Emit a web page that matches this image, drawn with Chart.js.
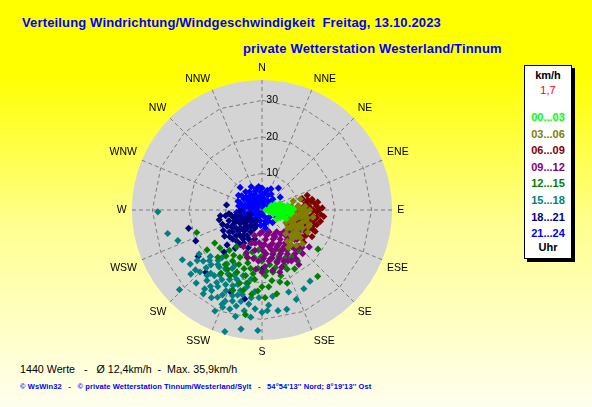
<!DOCTYPE html>
<html>
<head>
<meta charset="utf-8">
<script src="https://cdn.jsdelivr.net/npm/chart.js@4.4.0/dist/chart.umd.min.js"></script>
<style>
html, body { margin: 0; padding: 0; }
body {
    width: 592px; height: 407px; overflow: hidden; position: relative;
    background: linear-gradient(to bottom, #ffff00 0%, #ffff00 18%, #ffff90 55%, #fffff0 100%);
    font-family: "Liberation Sans", Arial, sans-serif;
}
#wrap { position: absolute; left: 0; top: 0; width: 592px; height: 407px; }
.t { position: absolute; white-space: pre; }
.title { color: #0000ff; font-weight: bold; font-size: 13px; letter-spacing: 0.15px; }
#legendBox {
    position: absolute; left: 524px; top: 65px; width: 46px; height: 192px;
    background: #fff; border: 1px solid #000; box-shadow: 3px 3px 0 #000;
    font-weight: bold; font-size: 11px; text-align: center;
}
#legendBox div { position: absolute; left: 0; width: 46px; }
</style>
</head>
<body>
<div class="t title" style="left:22px; top:15px;">Verteilung Windrichtung/Windgeschwindigkeit  Freitag, 13.10.2023</div>
<div class="t title" style="left:243px; top:41px;">private Wetterstation Westerland/Tinnum</div>

<div id="legendBox"></div>

<div class="t" style="left:20px; top:363px; font-size:10.7px; color:#000;">1440 Werte   -   Ø 12,4km/h  -  Max. 35,9km/h</div>
<div class="t" style="left:20px; top:382px; font-size:7.5px; letter-spacing:0.1px; font-weight:bold; color:#0000ff;">© WsWin32   -   © private Wetterstation Tinnum/Westerland/Sylt   -   54°54'13'' Nord; 8°19'13'' Ost</div>

<div id="wrap"><canvas id="rose"></canvas></div>

<script>
// Himmelsrichtungen
const compass = ['N', 'NNE', 'NE', 'ENE', 'E', 'ESE', 'SE', 'SSE', 'S', 'SSW', 'SW', 'WSW', 'W', 'WNW', 'NW', 'NNW'];
const rMax = 35.6;
const rTicks = [10, 20, 30];

// [Richtung in Grad, Geschwindigkeit km/h]
const bin00_03 = [[90,1],[76,2.1],[72,3.2],[76,4.1],[79,5.1],[80,6.1],[86,7],[90,8],[90,3],[90,4],[90,5],[90,6],[94,7],
    [104,2.1],[108,3.2],[104,4.1],[101,5.1],[99,6.1],[112,5.4],[122,4.7],[108,6.3],[65,3.8],[97,8.1],[80,7.1],[64,2.8],
    [108,4.7],[93,6.5],[84,5.6],[98,7.6],[70,5.2],[86,2.5],[100,3],[95,4.5],[85,7.8],[88,8.6],[110,7],[75,3]];
const bin03_06 = [[83,8.1],[90,9],[84,10],[90,11],[103,9.2],[101,10.2],[100,11.2],[111,8.5],[114,9.8],[112,10.8],[122,9.4],
    [124,10.8],[131,10.6],[113,7.6],[126,8.6],[95,12],[104,12.4],[114,12.1],[123,11.9],[74,8.9],[74,10.9],[90,13],[99,6.6],
    [141,11],[140,12.4],[116,13.9],[98,14.1],[96,9.1],[108,11.5],[107,13.6],[130,14.4],[118,7.4],[135,9.2],
    [88,10],[95,10.6],[105,9.5],[110,11.2],[118,11],[128,12],[134,11.5],[120,9],[100,12.6],[92,12.2],[85,11.8],
    [105,8],[116,10.3],[126,13],[136,13.5],[145,12.5],[110,13.5],[96,7.6]];
const bin06_09 = [[75,11.4],[81,12.2],[86,13],[90,14],[86,15],[94,16],[98,15.1],[102,14.3],[99,13.2],[95,12],[100,11.2],
    [107,10.4],[108,12.6],[111,13.9],[111,15],[114,12.1],[125,12.2],[120,13.9],[108,9.5],[101,16.3],[105,15.5],[80,13.7],
    [84,10],[118,10.7],[83,14.6],[102,12.3],[101,8.1],[88,16.5],[124,13.3],[120,8.1],[74,11.4],[82,15.4],[112,15.7],
    [78,12.8],[85,11.5],[90,12.5],[92,15],[96,13.8],[104,13],[106,14.8],[110,11],[115,13.5],[118,15.5],[96,17],
    [90,15.6],[78,14],[72,13],[103,11.8],[115,9.5],[92,9.6],[128,14.5]];
const bin09_12 = [[180,6],[162,6.3],[146,7.2],[135,8.5],[127,10],[121,11.7],[196,7.3],[173,8.1],[159,8.5],[148,9.4],[139,10.6],
    [132,12],[126,13.6],[180,10],[169,10.2],[158,10.8],[149,11.7],[141,12.8],[135,14.1],[190,11.2],[175,12],[166,12.4],
    [157,13],[150,13.9],[143,15],[184,14],[172,14.1],[164,15],[157,15.2],[150,16.1],[137,16.3],[198,9.5],[117,13.4],
    [128,16.4],[197,13.6],[170,16.8],[180,17],[146,18],[164,17.7],[207,11.2],[154,8.1],[168,6.9],[144,12.2],
    [170,7],[155,7.6],[142,8.4],[131,9.3],[176,9.4],[163,9.6],[152,10.3],[144,11],[185,9],[178,11.2],[161,11.4],
    [153,12.3],[146,12.6],[140,14],[133,15],[168,13.4],[160,14],[177,15.5],[153,15.6],[190,13.5],[186,16.3],
    [161,16.6],[145,16.3],[130,12.5],[124,10.6],[137,9.7],[185,6.5],[192,9.3],[200,12.5],[178,13.2],[167,11]];
const bin12_15 = [[198,9.5],[207,11.2],[215,12.2],[219,14.2],[185,11],[175,12],[166,12.4],[156,12.1],[148,13],[189,13.2],
    [197,13.6],[205,14.3],[210,16.1],[180,14],[172,15.1],[164,14.6],[158,16.2],[148,15.3],[184,16],[191,16.3],[197,16.8],
    [202,18.4],[177,18],[170,17.3],[164,18.7],[186,19.1],[191,20.4],[180,21],[175,21.1],[197,20.9],[214,18],[223,17.7],
    [151,18.4],[138,14.9],[161,21.2],[187,23.2],[234,18.6],[235,15.8],[170,23.3],[200,23.4],[251,18.9],[140,23.7],
    [125,18.7],[189,29],[193,11.8],[181,12.8],[170,13.5],[160,13.5],[153,14.5],[195,15],[203,16.2],[188,17.6],
    [176,16.8],[167,16.2],[157,17.6],[210,18.8],[206,20],[194,18.5],[183,22.2],[172,19.5],[178,24],[218,16],
    [228,15.5],[145,17],[200,13],[212,14.6],[166,20.3],[193,22.5],[213,20.6]];
const bin15_18 = [[229,21.3],[223,20.5],[219,19.2],[212,18.9],[207,17.9],[220,23.4],[216,22.2],[210,22],[205,21],[200,20.2],
    [196,18.7],[214,25.2],[210,24.2],[204,24.2],[200,23.4],[195,22.8],[191,21.4],[207,26.8],[202,26.9],[198,26.2],
    [193,25.7],[187,24.2],[184,27.1],[198,28.5],[190,28],[225,24],[222,26.9],[215,28],[182,24],[180,28],[176,26.1],
    [202,18.4],[220,17],[189,19.2],[269,28.5],[256,26.6],[250,24.5],[238,25.7],[226,31.4],[228,26.2],[202,28.7],
    [197,34.8],[190,33.1],[182,33],[177,27.6],[171,27.9],[166,28],[159,26.2],[152,24.4],[146,23.5],[162,23.6],
    [173,23.8],[233,24.6],[217,19.5],[213,21.2],[208,19.8],[203,19.3],[198,21.4],[219,22.3],[212,23.4],[206,22.7],
    [201,22.2],[196,24.2],[224,22],[218,24.5],[212,26],[205,25.6],[199,24.8],[193,23.8],[210,27.7],[203,28],
    [195,27.2],[188,26],[216,26.7],[226,20],[221,18.3],[213,17.6],[206,16.7],[232,22.5],[228,24.5],[186,29.5],
    [194,30],[205,30.5],[192,20.5],[185,22.4],[228,19],[235,21]];
const bin18_21 = [[225,4.2],[233,5],[239,5.8],[243,6.7],[247,7.6],[243,8.9],[219,6.4],[225,7.1],[230,7.8],[234,8.6],[233,10],
    [216,8.6],[221,9.2],[225,9.9],[210,8.1],[207,6.7],[209,10.3],[212,11.2],[225,11.3],[236,10.8],[252,9.5],[258,7.2],
    [264,9.1],[261,10.1],[249,4.3],[198,9.5],[194,8.2],[202,5.4],[207,3.4],[256,20.7],[245,20],[234,21.6],[262,11.5],
    [278,9.8],[201,24],[191,24.8],[180,16.2],[222,23],[222,15.5],[240,9.5],[228,6],[215,5.5],[238,7],[250,6],
    [255,8],[245,10.5],[230,11.5],[218,11],[213,9.5],[220,7.5],[228,8.5],[235,12.5],[242,12],[250,11.5],[257,12],
    [260,8.5],[248,8],[204,8.8],[200,11],[215,12.8],[225,13.5],[232,4],[205,4.8],[250,3.5],[268,6],[240,4.5]];
const bin21_24 = [[281,5.1],[307,5],[323,5],[336,4.8],[344,3.6],[0,4],[21,4.3],[45,4.2],[261,6.1],[248,5.4],[256,4.1],
    [270,3],[315,2.8],[315,1.4],[0,2],[45,1.4],[45,2.8],[304,3.6],[291,4.3],[301,5.8],[243,2.2],[236,3.6],[207,2.2],
    [180,1],[162,3.2],[135,2.8],[288,6.3],[326,3.6],[243,1.1],[45,0.7],[37,7.5],[316,8.6],[23,6.3],[318,6.7],[55,6.1],
    [302,7.6],[169,5.1],[117,4.5],[247,7.6],[276,2],[352,6.5],[10,2.6],[265,1.5],[290,2.5],[300,1.8],[330,2.2],
    [350,3],[10,4.8],[30,3],[20,1.5],[275,4.8],[285,5.8],[295,4.5],[310,4],[320,3],[340,5.5],[355,5],[5,3.3],
    [15,5.6],[30,5],[50,3.3],[60,2],[260,5],[270,5.5],[280,6.5],[250,3],[230,2],[220,4.5],[200,1.5],[290,7],
    [305,6.8],[325,6],[335,7],[345,6],[0,6],[265,7],[255,6.5],[240,5],[310,5.5],[300,3],[280,3.5],[330,4],
    [70,3.5],[90,2],[190,3],[170,4],[150,3.5],[200,4.5],[160,2],[215,3],[140,4.5],[185,4.2]];

const binLabels = ['00...03', '03...06', '06...09', '09...12', '12...15', '15...18', '18...21', '21...24'];
const binColors = ['#00ff00', '#808000', '#800000', '#800080', '#008000', '#008080', '#000080', '#0000ff'];
const bins = [bin00_03, bin03_06, bin06_09, bin09_12, bin12_15, bin15_18, bin18_21, bin21_24];

// Legende rechts
const legendBox = document.getElementById('legendBox');
const addLine = (text, top, color, bold) => {
    const d = document.createElement('div');
    d.textContent = text;
    d.style.top = top + 'px';
    d.style.color = color;
    if (!bold) d.style.fontWeight = 'normal';
    legendBox.appendChild(d);
};
addLine('km/h', 3, '#000', true);
addLine('1,7', 18, '#ff0000', false);
binLabels.forEach((l, i) => addLine(l, 45 + i * 16.6, binColors[i], true));
addLine('Uhr', 175, '#000', true);

const toXY = pts => pts.map(([d, s]) => ({
    x: s * Math.sin(d * Math.PI / 180),
    y: s * Math.cos(d * Math.PI / 180)
}));

// x/y so legen, dass sie mit der Polarskala deckungsgleich sind
const polarFit = {
    id: 'polarFit',
    afterLayout(chart) {
        const r = chart.scales.r, x = chart.scales.x, y = chart.scales.y;
        const k = r.drawingArea / (r.max - r.min);
        x.min = (x.left - r.xCenter) / k;
        x.max = (x.right - r.xCenter) / k;
        x.configure();
        y.min = (r.yCenter - y.bottom) / k;
        y.max = (r.yCenter - y.top) / k;
        y.configure();
    },
    beforeDraw(chart) {
        const r = chart.scales.r;
        const ctx = chart.ctx;
        ctx.save();
        ctx.fillStyle = '#d4d4d4';
        ctx.beginPath();
        ctx.arc(r.xCenter, r.yCenter, r.drawingArea, 0, Math.PI * 2);
        ctx.fill();
        ctx.restore();
    }
};

const ctx = document.getElementById('rose').getContext('2d');
const roseChart = new Chart(ctx, {
    type: 'radar',
    data: {
        labels: compass,
        datasets: bins.map((b, i) => ({
            type: 'scatter',
            indexAxis: 'x',
            xAxisID: 'x',
            yAxisID: 'y',
            label: binLabels[i],
            data: toXY(b),
            backgroundColor: binColors[i],
            borderColor: binColors[i],
            borderWidth: 0,
            pointStyle: 'rectRot',
            pointRadius: 3.6,
            order: i
        }))
    },
    options: {
        responsive: true,
        maintainAspectRatio: false,
        animation: false,
        layout: { padding: { left: 106, top: 58, right: 180, bottom: 43 } },
        plugins: { legend: { display: false }, tooltip: { enabled: false } },
        scales: {
            r: {
                min: 0,
                max: rMax,
                grid: {
                    circular: false,
                    color: c => (c.tick && rTicks.includes(c.tick.value)) ? '#7c7c7c' : 'rgba(0,0,0,0)',
                    lineWidth: 1,
                    borderDash: [4, 3]
                },
                border: { dash: [4, 3] },
                angleLines: { color: '#7c7c7c', lineWidth: 1, borderDash: [4, 3] },
                ticks: {
                    stepSize: 10,
                    color: '#000',
                    font: { size: 10.5 },
                    showLabelBackdrop: false,
                    callback: v => rTicks.includes(v) ? '       ' + v : ''
                },
                pointLabels: { color: '#000', font: { size: 10.5 }, padding: -2 }
            },
            x: { type: 'linear', display: false },
            y: { type: 'linear', display: false }
        }
    },
    plugins: [polarFit]
});
</script>
</body>
</html>
